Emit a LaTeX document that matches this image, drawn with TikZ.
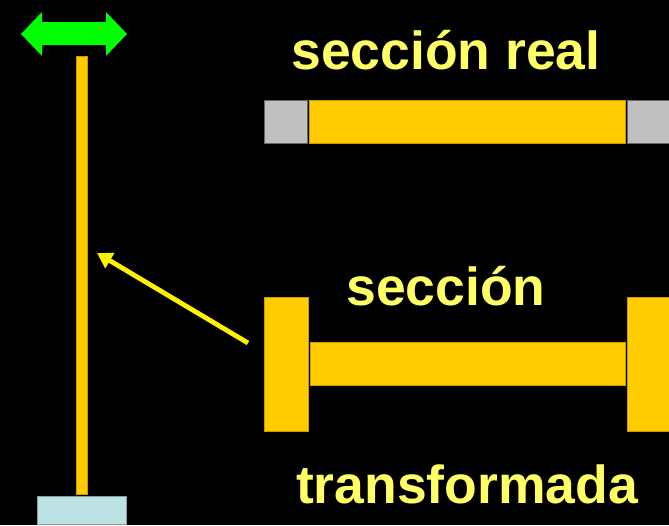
\documentclass[tikz,border=0pt]{standalone}
\usepackage{fontspec}
\setmainfont{Liberation Sans}
\usetikzlibrary{arrows.meta}
\definecolor{amber}{RGB}{255,204,0}
\definecolor{amberedge}{RGB}{204,153,0}
\definecolor{txtyellow}{RGB}{255,255,102}
\definecolor{greyfill}{RGB}{192,192,192}
\definecolor{basefill}{RGB}{189,226,228}
\definecolor{arrowgreen}{RGB}{0,255,0}
\begin{document}
\begin{tikzpicture}[x=1pt,y=-1pt,
  box/.style={anchor=north west,inner sep=0pt,outer sep=0pt,line width=0.8pt},
  yellowbox/.style={box,fill=amber,draw=amberedge},
  greybox/.style={box,fill=greyfill,draw=black!60},
  label/.style={anchor=base,inner sep=0pt,text=txtyellow,font=\fontsize{53.5}{60}\selectfont\bfseries}]
\fill[black] (0,0) rectangle (669,525);
\useasboundingbox (0,0) rectangle (669,525);
% green double arrow
\fill[arrowgreen] (21,34) -- (42,12) -- (42,22) -- (106,22) -- (106,12) -- (127,34)
  -- (106,56) -- (106,45) -- (42,45) -- (42,56) -- cycle;
% column and base
\node[yellowbox,minimum width=11pt,minimum height=438pt] (col) at (76,56) {};
\node[box,fill=basefill,draw=basefill!70!black,minimum width=89pt,minimum height=28pt] (base) at (37,496) {};
% real section
\node[greybox,minimum width=43pt,minimum height=43pt] (gl) at (264,100) {};
\node[yellowbox,minimum width=316pt,minimum height=43pt] (rweb) at (309,100) {};
\node[greybox,minimum width=46pt,minimum height=43pt] (gr) at (627,100) {};
% transformed section
\node[yellowbox,minimum width=44pt,minimum height=134pt] (fl) at (264,297) {};
\node[yellowbox,minimum width=315pt,minimum height=43pt] (tweb) at (310,342) {};
\node[yellowbox,minimum width=46pt,minimum height=134pt] (fr) at (627,297) {};
% labels
\node[label] (t1) at (446,69) {sección real};
\node[label] (t2) at (446,305) {sección};
\node[label] (t3) at (467,503) {transformada};
% pointer arrow
\coordinate (tail) at (248,343);
\coordinate (tip) at (97,253);
\draw[yellow,line width=4.8pt,-{Triangle[length=15pt,width=17pt]}] (tail) -- (tip);
\end{tikzpicture}
\end{document}
